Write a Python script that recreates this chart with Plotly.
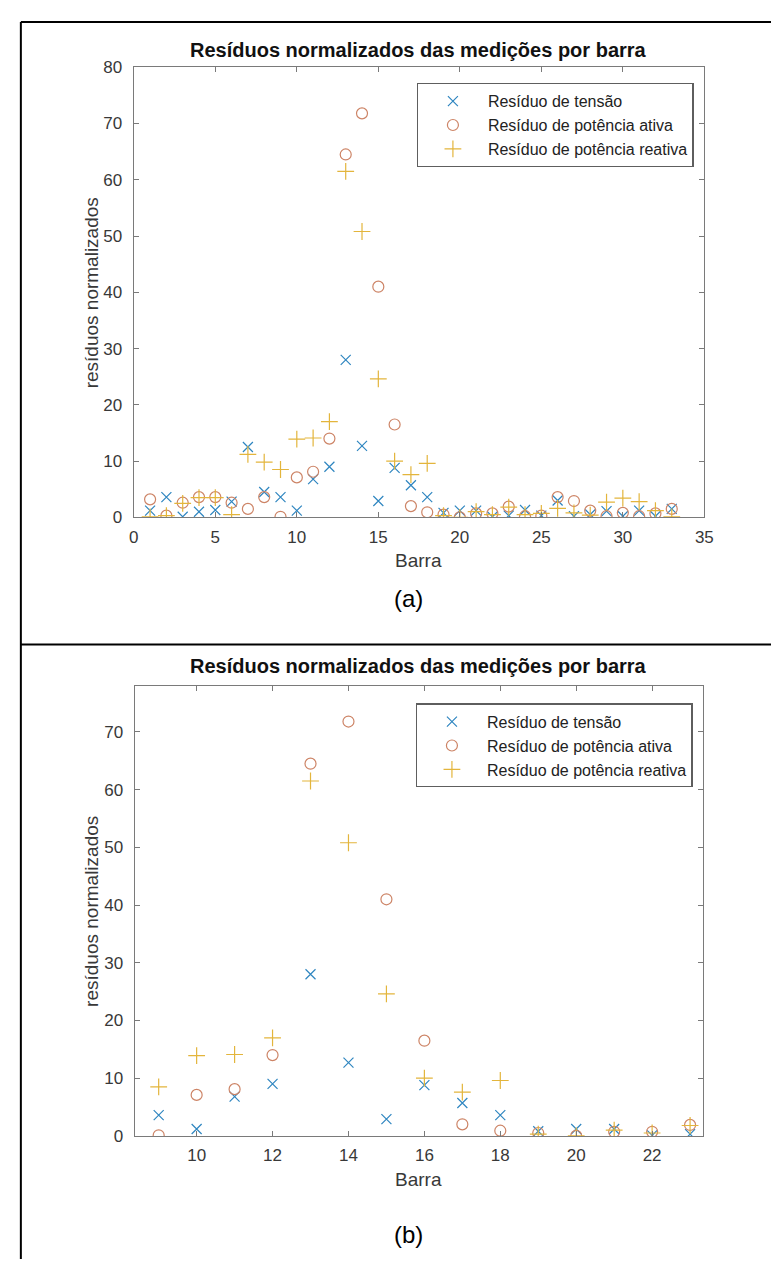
import plotly.graph_objects as go

W, H = 779, 1261

# ---------------- data ----------------
barras = list(range(1, 34))
residuo_tensao = [1.2, 3.6, 0.1, 1.0, 1.3, 2.8, 12.5, 4.5, 3.6, 1.2, 6.8, 9.0, 28.0, 12.7, 2.9,
                  8.8, 5.7, 3.6, 0.8, 1.2, 1.2, 0.1, 0.3, 1.3, 0.3, 3.0, 0.2, 0.5, 1.1, 0.2,
                  1.2, 0.2, 1.5]
residuo_ativa = [3.2, 0.3, 2.6, 3.6, 3.6, 2.6, 1.5, 3.6, 0.1, 7.1, 8.1, 14.0, 64.5, 71.8, 41.0,
                 16.5, 2.0, 0.9, 0.5, 0.0, 0.7, 0.7, 1.9, 0.2, 0.3, 3.6, 2.9, 1.2, 0.2, 0.8,
                 0.2, 0.7, 1.5]
residuo_reativa = [0.1, 0.3, 2.5, 3.5, 3.5, 0.5, 11.2, 9.8, 8.5, 13.9, 14.1, 17.0, 61.5, 50.8, 24.6,
                   10.0, 7.6, 9.6, 0.3, 0.0, 1.0, 0.5, 1.8, 0.5, 0.7, 1.6, 0.8, 0.4, 2.7, 3.4,
                   2.8, 1.2, 0.1]

zoom_ini, zoom_fim = 9, 23  # barras shown in panel (b)

series_names = ["Resíduo de tensão", "Resíduo de potência ativa", "Resíduo de potência reativa"]
title_text = "Resíduos normalizados das medições por barra"
xlabel = "Barra"
ylabel = "resíduos normalizados"
xticks_a = [0, 5, 10, 15, 20, 25, 30, 35]
yticks_a = [0, 10, 20, 30, 40, 50, 60, 70, 80]
xticks_b = [10, 12, 14, 16, 18, 20, 22]
yticks_b = [0, 10, 20, 30, 40, 50, 60, 70]

# ---------------- styling ----------------
C_BLUE = "#2f86c0"
C_ORANGE = "#cd8466"
C_YELLOW = "#e3b53c"
AXC = "#7a7a7a"
TXT = "#383838"
FONT = "Liberation Sans, Arial, sans-serif"


def px_x(p):
    return p / W


def px_y(p):
    return 1 - p / H


fig = go.Figure()

symbols = [("x-thin", 10, C_BLUE), ("circle-open", 11, C_ORANGE), ("cross-thin", 12, C_YELLOW)]
series = [residuo_tensao, residuo_ativa, residuo_reativa]

# panel (a)
for name, ys, (sym, sz, col) in zip(series_names, series, symbols):
    fig.add_trace(go.Scatter(
        x=barras, y=ys, mode="markers", name=name, legend="legend",
        marker=dict(symbol=sym, size=sz, color=col, line=dict(color=col, width=1.2)),
        xaxis="x", yaxis="y"))

# panel (b)
sel = [i for i, b in enumerate(barras) if zoom_ini <= b <= zoom_fim]
for name, ys, (sym, sz, col) in zip(series_names, series, symbols):
    fig.add_trace(go.Scatter(
        x=[barras[i] for i in sel], y=[ys[i] for i in sel], mode="markers", name=name,
        legend="legend2",
        marker=dict(symbol=sym, size=sz, color=col, line=dict(color=col, width=1.2)),
        xaxis="x2", yaxis="y2"))

axis_common = dict(showline=True, mirror="ticks", linecolor=AXC, linewidth=1.3,
                   ticks="inside", ticklen=5, tickcolor=AXC, tickwidth=1,
                   showgrid=False, zeroline=False,
                   tickfont=dict(family=FONT, size=17, color=TXT))

fig.update_layout(
    xaxis=dict(domain=[px_x(123), px_x(704)], range=[0, 35], tickvals=xticks_a,
               anchor="y", ticklabelstandoff=4, **axis_common),
    yaxis=dict(domain=[px_y(508), px_y(51)], range=[0, 80], tickvals=yticks_a,
               anchor="x", ticklabelstandoff=7, **axis_common),
    xaxis2=dict(domain=[px_x(124), px_x(703)], range=[8.37, 23.35], tickvals=xticks_b,
                anchor="y2", ticklabelstandoff=4, **axis_common),
    yaxis2=dict(domain=[px_y(1136), px_y(679)], range=[0, 78], tickvals=yticks_b,
                anchor="x2", ticklabelstandoff=7, **axis_common),
)

legend_common = dict(bgcolor="white", bordercolor="#5e5e5e", borderwidth=1.3,
                     font=dict(family=FONT, size=16, color="#222222"),
                     itemwidth=60, tracegroupgap=0, xanchor="left", yanchor="top",
                     itemclick=False)
fig.update_layout(
    legend=dict(x=px_x(411), y=px_y(67), **legend_common),
    legend2=dict(x=px_x(410), y=px_y(697), **legend_common),
)


def label(text, x, y, size, color=TXT, angle=0, bold=False):
    return dict(text=("<b>%s</b>" % text) if bold else text,
                x=px_x(x), y=px_y(y), xref="paper", yref="paper",
                xanchor="center", yanchor="middle", textangle=angle,
                showarrow=False, font=dict(family=FONT, size=size, color=color))


ann = [
    label(title_text, 413, 34, 20, color="#111111", bold=True),
    label(title_text, 413, 659, 20, color="#111111", bold=True),
    label(xlabel, 413, 552, 19),
    label(xlabel, 413, 1180, 19),
    label(ylabel, 80, 280, 19, angle=-90),
    label(ylabel, 80, 908, 19, angle=-90),
    label("(a)", 403, 590, 24, color="#000000"),
    label("(b)", 403, 1236, 24, color="#000000"),
]

shapes = []
line_style = dict(color="black", width=2)


def hline(y, x0, x1):
    return dict(type="line", xref="paper", yref="paper", x0=px_x(x0), x1=px_x(x1),
                y0=px_y(y), y1=px_y(y), line=line_style)


def vline(x, y0, y1):
    return dict(type="line", xref="paper", yref="paper", x0=px_x(x), x1=px_x(x),
                y0=px_y(y0), y1=px_y(y1), line=line_style)


shapes += [hline(5, 8, 776), vline(8, 5, 1261), vline(776, 5, 637), hline(637, 8, 779)]

fig.update_layout(
    width=W, height=H, autosize=False,
    margin=dict(l=0, r=0, t=0, b=0),
    paper_bgcolor="white", plot_bgcolor="white",
    annotations=ann, shapes=shapes,
    font=dict(family=FONT),
)

fig.write_html("out.html")
